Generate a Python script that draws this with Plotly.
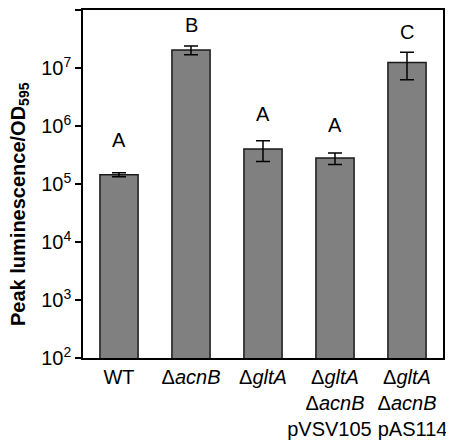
import math
import plotly.graph_objects as go

NB = "\u00a0"
categories = ["WT", "ΔacnB", "ΔgltA", "ΔgltA ΔacnB pVSV105", "ΔgltA ΔacnB pAS114"]
tick_labels = [
    "WT",
    "Δ<i>acnB</i>",
    "Δ<i>gltA</i>",
    "Δ<i>gltA</i><br>Δ<i>acnB</i><br>pVSV105" + NB * 2,
    "Δ<i>gltA</i><br>Δ<i>acnB</i><br>" + NB * 2 + "pAS114",
]
values = [1.45e5, 2.05e7, 4.0e5, 2.8e5, 1.25e7]
errors = [1.2e4, 3.5e6, 1.55e5, 6.3e4, 6.2e6]
letters = ["A", "B", "A", "A", "C"]
letter_y = [5.7e5, 5.5e7, 1.6e6, 1.05e6, 4.2e7]
ytick_vals = [1e2, 1e3, 1e4, 1e5, 1e6, 1e7, 1e8]
ytick_text = ["10<sup>%d</sup>" % e for e in range(2, 9)]
y_title = "<b>Peak luminescence/OD<sub>595</sub></b>"

FONT = "Liberation Sans, Arial, sans-serif"

fig = go.Figure()
fig.add_trace(go.Bar(
    x=categories, y=values, width=0.53,
    marker=dict(color="#808080", line=dict(color="#1a1a1a", width=1.5)),
    error_y=dict(type="data", array=errors, visible=True,
                 color="#000000", thickness=1.5, width=7),
    showlegend=False,
))

for c, t, yy in zip(categories, letters, letter_y):
    fig.add_annotation(x=c, y=math.log10(yy), text=t, showarrow=False,
                       yanchor="middle", xanchor="center",
                       font=dict(size=20, color="#000", family=FONT))

fig.add_annotation(xref="paper", yref="paper", x=0, y=0.5,
                   xanchor="center", yanchor="middle",
                   xshift=-64, yshift=-20, textangle=-90,
                   text=y_title, showarrow=False,
                   font=dict(size=20, color="#000", family=FONT))

fig.update_layout(
    width=446, height=436,
    margin=dict(l=75, r=11, t=2, b=86),
    plot_bgcolor="white", paper_bgcolor="white",
    font=dict(family=FONT, color="#000"),
    bargap=0.47,
)
fig.update_xaxes(
    tickmode="array", tickvals=categories, ticktext=tick_labels,
    tickfont=dict(size=20, family=FONT, color="#000"),
    tickangle=0, automargin=False,
    showline=True, linecolor="#000", linewidth=1.5, mirror=True,
    ticks="", showgrid=False,
)
fig.update_yaxes(
    type="log", range=[2, 8.0005], automargin=False,
    tickmode="array", tickvals=ytick_vals, ticktext=ytick_text,
    tickfont=dict(size=20, family=FONT, color="#000"),
    ticks="outside", ticklen=6, tickwidth=1.5, tickcolor="#000",
    showline=True, linecolor="#000", linewidth=1.5, mirror=True,
    showgrid=False, zeroline=False,
)

fig.write_html("out.html")
